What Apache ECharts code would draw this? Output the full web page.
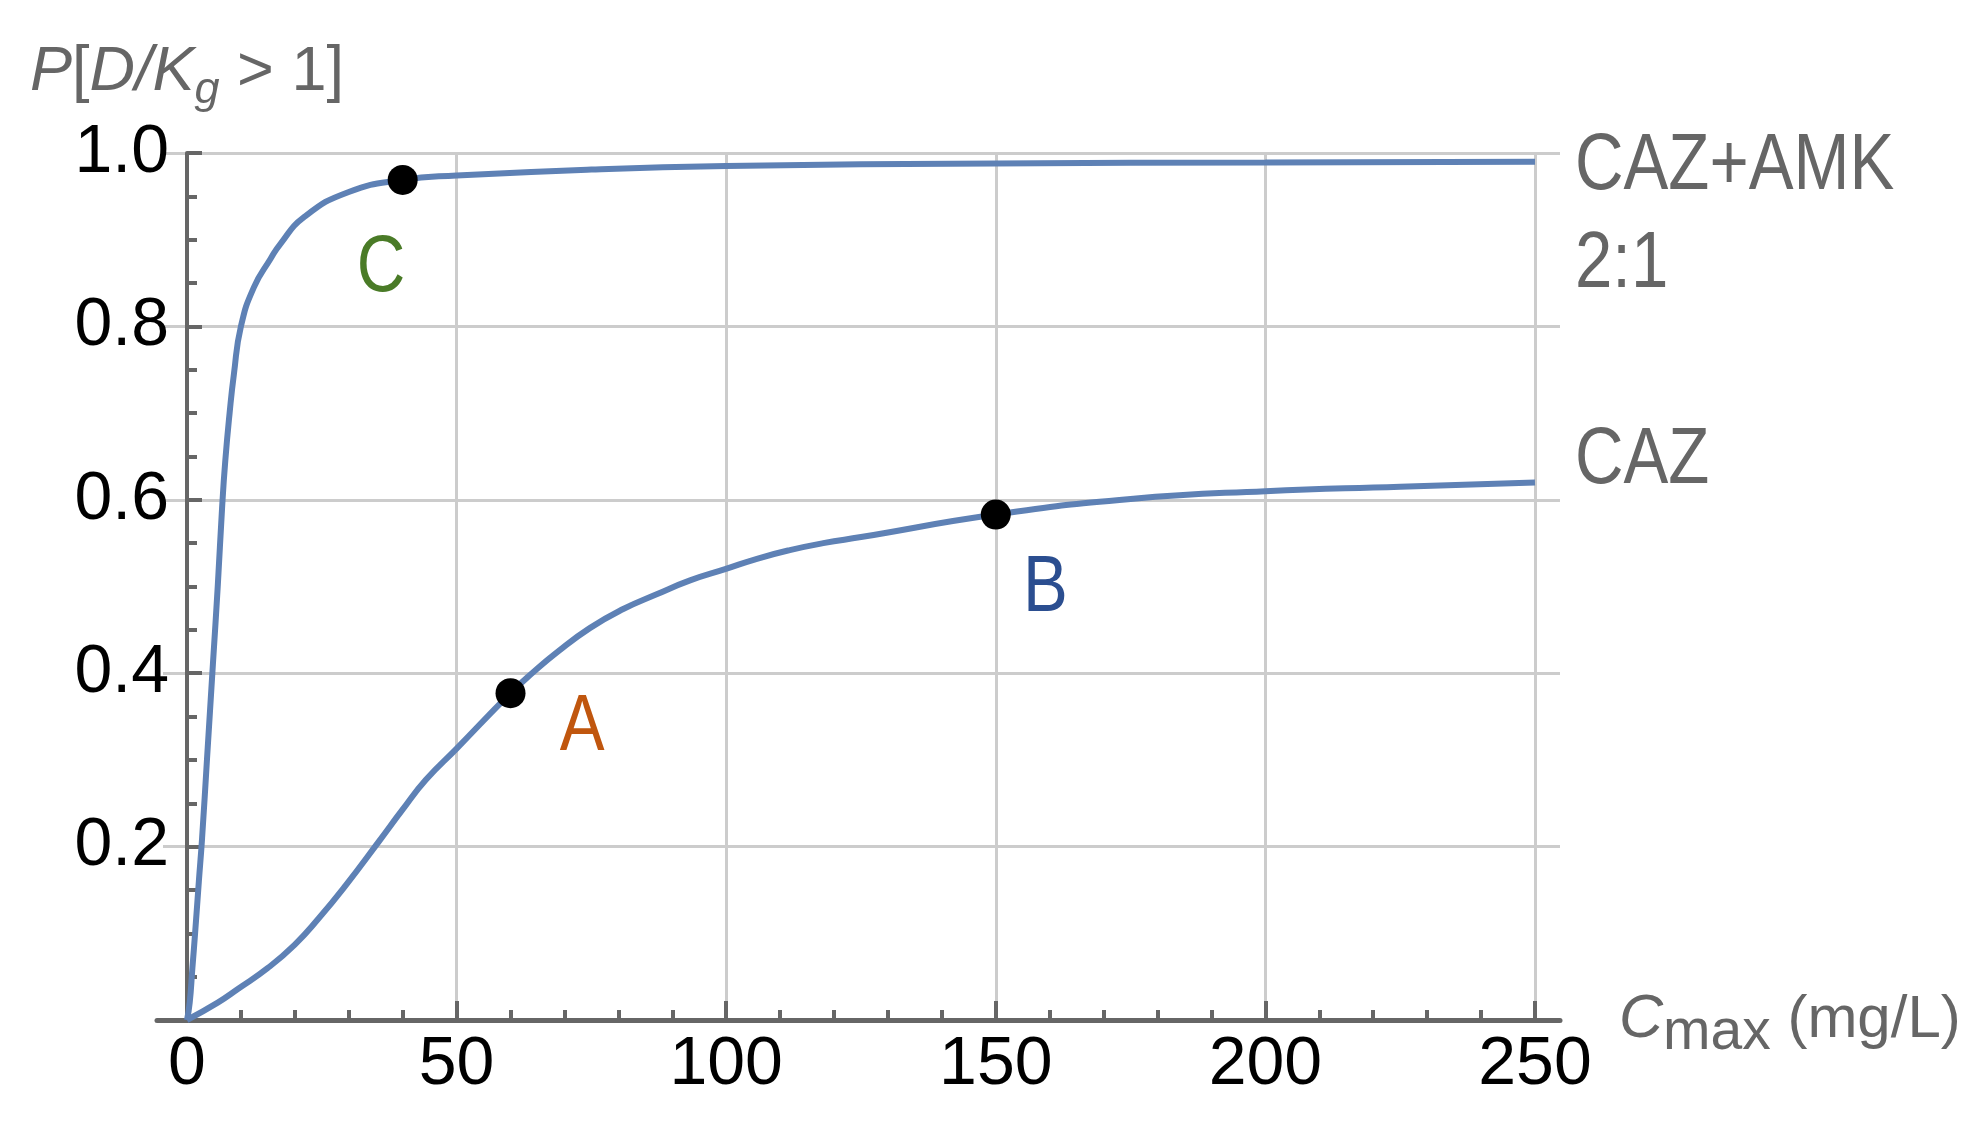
<!DOCTYPE html>
<html>
<head>
<meta charset="utf-8">
<script src="https://cdn.jsdelivr.net/npm/echarts@6/dist/echarts.min.js"></script>
<style>
html,body{margin:0;padding:0;background:#ffffff;}
#chart{width:1964px;height:1126px;}
</style>
</head>
<body>
<div id="chart"></div>
<script>
// ---- data ----
const xTickValues = [0, 50, 100, 150, 200, 250];
const yTickValues = [0.2, 0.4, 0.6, 0.8, 1.0];
const seriesNames = ['CAZ+AMK 2:1', 'CAZ'];
const seriesLabelLines = [['CAZ+AMK', '2:1'], ['CAZ']];
const cazAmk = [[0,0],[0.5,0.02],[1.0,0.06],[1.5,0.1],[2.2,0.16],[2.8,0.21],[3.7,0.3],[4.8,0.41],[5.7,0.5],[6.5,0.59],[7.1,0.645],[7.9,0.7],[8.7,0.745],[10.0,0.8],[12.4,0.845],[15.5,0.878],[17.3,0.895],[21.7,0.926],[30,0.955],[40,0.969],[50,0.974],[75,0.981],[100,0.985],[150,0.988],[200,0.989],[250,0.99]];
const caz = [[0,0],[5.7,0.02],[9.5,0.036],[15,0.06],[20,0.087],[24.4,0.117],[29.4,0.155],[35.6,0.206],[39.9,0.242],[44.3,0.277],[50,0.313],[60,0.377],[64.2,0.401],[68.6,0.424],[74.7,0.452],[80.9,0.474],[87.1,0.491],[93.3,0.507],[99.8,0.52],[105.7,0.532],[111.8,0.542],[118,0.55],[125,0.557],[150,0.583],[175,0.601],[200,0.61],[225,0.615],[250,0.62]];
const markedPoints = [[40,0.969],[60,0.377],[150,0.583]];
const pointLabelNames = ['C', 'A', 'B'];
const pointLabelPos = [[36.0,0.866],[73.3,0.337],[159.2,0.497]];

// ---- styles ----
const FONT = '"Liberation Sans", Arial, sans-serif';
const AXIS = '#666666';
const GRID = '#cccccc';
const CURVE = '#5e81b5';
const TITLE = '#666666';
const labelColors = {C: '#4a7b27', A: '#c0560e', B: '#2b4e90'};
const NARROW = 0.84;

const chart = echarts.init(document.getElementById('chart'), null, {renderer: 'canvas'});

const option = {
  animation: false,
  backgroundColor: '#ffffff',
  grid: [
    {left: 157, right: 404, top: 153, bottom: 106},
    {left: 163, right: 404, top: 153, bottom: 106},
    {left: 187, right: 429, top: 153, bottom: 106}
  ],
  xAxis: [
    {gridIndex: 0, type: 'value', min: 0, max: 1,
      axisLine: {show: true, onZero: false, lineStyle: {color: AXIS, width: 5}},
      axisTick: {show: false}, axisLabel: {show: false}, splitLine: {show: false}},
    {gridIndex: 1, type: 'value', min: 0, max: 1, show: false},
    {gridIndex: 2, type: 'value', min: 0, max: 250, interval: 50,
      axisLine: {show: false, onZero: false},
      axisTick: {show: true, inside: true, length: 19, lineStyle: {color: AXIS, width: 4}},
      minorTick: {show: true, splitNumber: 5, length: 10, lineStyle: {color: AXIS, width: 4}},
      axisLabel: {show: true, margin: 11, fontSize: 68, color: '#000000', fontFamily: FONT,
        customValues: xTickValues},
      splitLine: {show: true, showMinLine: false, lineStyle: {color: GRID, width: 3}},
      name: '{i|C}{s|max}{n| (mg/L)}', nameLocation: 'end', nameGap: 84,
      nameTextStyle: {color: TITLE, fontFamily: FONT, fontSize: 60, align: 'left', verticalAlign: 'middle',
        rich: {
          i: {fontStyle: 'italic', fontSize: 61, color: TITLE, fontFamily: FONT},
          s: {fontSize: 57, color: TITLE, fontFamily: FONT, padding: [26, 0, 0, 0]},
          n: {fontSize: 60, color: TITLE, fontFamily: FONT}
        }}
    }
  ],
  yAxis: [
    {gridIndex: 0, type: 'value', min: 0, max: 1, show: false},
    {gridIndex: 1, type: 'value', min: 0, max: 1, interval: 0.2,
      axisLine: {show: false}, axisTick: {show: false}, axisLabel: {show: false},
      splitLine: {show: true, showMinLine: false, lineStyle: {color: GRID, width: 3}}},
    {gridIndex: 2, type: 'value', min: 0, max: 1, interval: 0.2,
      axisLine: {show: true, onZero: false, lineStyle: {color: AXIS, width: 4}},
      axisTick: {show: true, inside: true, length: 15, lineStyle: {color: AXIS, width: 4}},
      minorTick: {show: true, splitNumber: 4, length: 10, lineStyle: {color: AXIS, width: 4}},
      axisLabel: {show: true, margin: 18, fontSize: 68, color: '#000000', fontFamily: FONT,
        customValues: yTickValues,
        formatter: v => Number(v).toFixed(1)},
      splitLine: {show: false},
      name: '{i|P}{n|[}{i|D/K}{s|g}{n| > 1]}', nameLocation: 'end', nameGap: 40,
      nameTextStyle: {color: TITLE, fontFamily: FONT, fontSize: 63, align: 'center',
        rich: {
          i: {fontStyle: 'italic', fontSize: 63, color: TITLE, fontFamily: FONT},
          s: {fontStyle: 'italic', fontSize: 45, color: TITLE, fontFamily: FONT, padding: [36, 0, 0, 0]},
          n: {fontSize: 63, color: TITLE, fontFamily: FONT}
        }}
    }
  ],
  series: [
    {name: seriesNames[0], type: 'line', xAxisIndex: 2, yAxisIndex: 2, data: cazAmk,
      smooth: 0.5, showSymbol: false, symbol: 'none', clip: false,
      lineStyle: {color: CURVE, width: 6}, z: 3},
    {name: seriesNames[1], type: 'line', xAxisIndex: 2, yAxisIndex: 2, data: caz,
      smooth: 0.5, showSymbol: false, symbol: 'none', clip: false,
      lineStyle: {color: CURVE, width: 6}, z: 3},
    {name: 'points', type: 'scatter', xAxisIndex: 2, yAxisIndex: 2, data: markedPoints,
      symbol: 'circle', symbolSize: 30, itemStyle: {color: '#000000', opacity: 1}, z: 5, silent: true}
  ]
};
chart.setOption(option);

// text labels placed through the chart's own scales (narrow lettering like the reference)
const toPx = p => chart.convertToPixel({gridIndex: 2}, p);
const graphics = [];
pointLabelPos.forEach((p, i) => {
  const q = toPx(p);
  graphics.push({type: 'text', x: q[0], y: q[1], scaleX: NARROW, z: 10, silent: true,
    style: {text: pointLabelNames[i], fill: labelColors[pointLabelNames[i]], fontSize: 80,
      fontFamily: FONT, align: 'center', verticalAlign: 'middle'}});
});
const ends = [cazAmk[cazAmk.length - 1], caz[caz.length - 1]];
const endShift = [[40, 5], [40, -22]];
ends.forEach((p, i) => {
  const q = toPx(p);
  seriesLabelLines[i].forEach((line, j) => {
    graphics.push({type: 'text', x: q[0] + endShift[i][0], y: q[1] + endShift[i][1] + j * 98,
      scaleX: NARROW, z: 10, silent: true,
      style: {text: line, fill: TITLE, fontSize: 80, fontFamily: FONT, align: 'left', verticalAlign: 'middle'}});
  });
});
chart.setOption({graphic: graphics});
</script>
</body>
</html>
